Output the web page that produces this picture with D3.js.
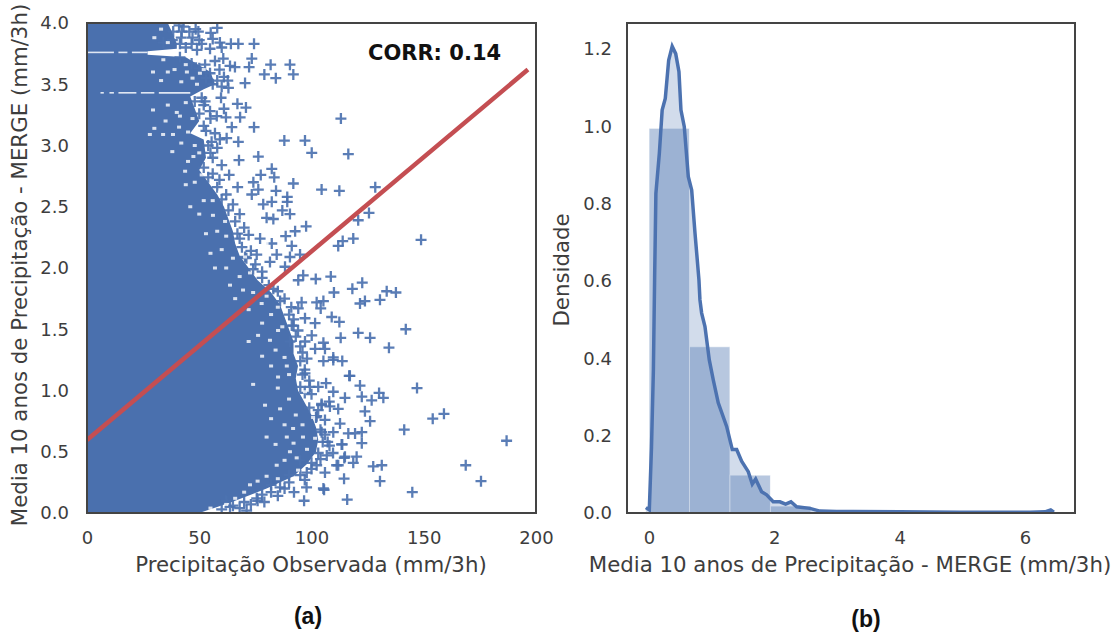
<!DOCTYPE html>
<html>
<head>
<meta charset="utf-8">
<script src="https://cdn.jsdelivr.net/npm/d3@7"></script>
<style>
    body { margin: 0; background: #fff; }
    text { font-family: "DejaVu Sans"; fill: #3d3d3d; }
</style>
</head>
<body>
<svg id="chart" width="1118" height="632"></svg>
<script>
// Panel (a): edge of the crowded cloud
var edgeY = [4, 3.92, 3.83, 3.79, 3.77, 3.74, 3.72, 3.6, 3.5, 3.46, 3.4, 3.3, 3.2, 3.1, 3.05, 2.9, 2.8, 2.7, 2.6, 2.5, 2.4, 2.3, 2.2, 2.1, 2, 1.9, 1.8, 1.7, 1.6, 1.5, 1.4, 1.3, 1.2, 1.1, 1, 0.9, 0.8, 0.7, 0.6, 0.5, 0.4, 0.3, 0.2, 0.1, 0.05, 0];
var edgeX = [36, 38, 40, 40, 27, 27, 44, 55, 57, 52, 46, 48, 50, 46, 52, 53, 50, 54, 58, 61, 63, 65, 66, 68, 72, 76, 82, 86, 88, 90, 92, 92, 94, 93, 94, 97, 100, 102, 103, 102, 98, 92, 80, 66, 58, 50];

// Panel (a): the separate + markers [observed, merge]
var scatterPoints = [
    [55.1,3.92],[74.4,3.83],[67.4,3.83],[64.1,3.83],[59.2,3.84],[60,3.8],[54.8,3.79],[48.4,3.95],[45.6,3.93],[49.6,3.93],
    [42.2,3.93],[38.4,3.93],[41.4,3.83],[46.6,3.83],[51.1,3.83],[34,3.84],[73.4,3.71],[60.7,3.71],[81.8,3.66],[90.4,3.66],
    [79,3.58],[91.9,3.58],[84.1,3.55],[72.2,3.64],[65.9,3.64],[63.7,3.65],[70.4,3.51],[62.7,3.53],[58,3.53],[54.8,3.59],
    [52.6,3.66],[46.6,3.67],[41.4,3.72],[51.1,3.39],[59.7,3.39],[67,3.34],[70.8,3.31],[61,3.3],[68.2,3.23],[74.4,3.15],
    [64.5,3.15],[61.9,3.23],[57.8,3.24],[52.6,3.36],[54.8,3.28],[87.9,3.04],[97.1,3.04],[67.4,3.03],[62.2,3.06],[59.2,3.05],
    [55.5,3.03],[113.1,3.22],[100.1,2.94],[116.4,2.93],[76.3,2.91],[67.7,2.88],[82.3,2.81],[77.4,2.76],[83.4,2.74],[63.3,2.76],
    [91.9,2.69],[74.1,2.7],[67.1,2.66],[76.3,2.64],[84.2,2.63],[104.5,2.64],[112.4,2.63],[128.4,2.66],[89.2,2.58],[89.2,2.54],
    [82.3,2.54],[78.5,2.52],[87,2.47],[90.4,2.44],[125.6,2.45],[120.8,2.39],[80,2.41],[83,2.4],[97.6,2.34],[92.7,2.3],
    [88.5,2.26],[118.6,2.24],[113.9,2.22],[111.9,2.18],[148.8,2.23],[91.2,2.18],[77.1,2.24],[82.3,2.2],[84.5,2.11],[90.4,2.09],
    [94.9,2.11],[81.5,2.05],[88.2,2.01],[70.4,2.09],[75.6,2.11],[73.4,2.6],[96.3,1.94],[94.1,1.9],[101.9,1.91],[108.6,1.93],
    [122.6,1.88],[118.2,1.83],[110,1.8],[133.5,1.81],[137.6,1.8],[130.5,1.74],[123.8,1.73],[121.6,1.71],[105.3,1.73],[102.3,1.72],
    [104.1,1.67],[95.6,1.72],[94.1,1.67],[109,1.6],[112.4,1.56],[97.1,1.59],[101.6,1.55],[91.2,1.53],[120.8,1.47],[126.1,1.43],
    [113,1.43],[142,1.5],[134.5,1.35],[100.1,1.45],[97.1,1.4],[105.3,1.39],[106,1.34],[101.6,1.34],[109.7,1.27],[113.7,1.24],
    [105.3,1.24],[116.8,1.12],[121.6,1.04],[147,1.02],[97.1,1.14],[103,1.03],[90.4,1.4],[159,0.81],[154,0.77],[141.3,0.68],
    [186.9,0.59],[168.7,0.39],[175.5,0.26],[144.9,0.17],[130.5,0.26],[131.3,0.39],[127.5,0.38],[115.9,0.11],[105.6,0.19],[96.7,0.1],
    [92.2,0.17],[97.8,0.21],[79,0.09],[122.4,0.66],[122.4,0.57],[116.4,0.65],[119.4,0.65],[113.4,0.56],[120.1,0.46],[118.6,0.41],
    [114.6,0.45],[114.5,0.28],[111.2,0.39],[106,0.33],[102.3,0.39],[126.1,0.75],[123.8,0.83],[132,0.94],[130.1,0.98],[126.8,0.92],
    [122.4,0.95],[117.1,1.12],[114.9,0.94],[109.7,1.25],[112.7,0.73],[109.7,0.66],[104.5,0.66],[108.2,0.87],[111.9,0.85],[104.5,0.89],
    [99.3,1.03],[106.5,1.06],[109.7,0.99],[102.3,0.79],[106.8,0.47],[109.6,0.49],[94.9,0.43],[97.9,0.33],[86,0.21],[75.6,0.12],
    [71.1,0.02],[63.7,0.05],[113.7,0.56],[107.2,0.58],[114.9,0.46],[111.9,0.39],[105.3,0.2],[107.9,0.91],[104.5,0.88]
];

// Panel (a): markers that make the rough rim of the cloud
var rimPoints = [
    [43,3.97],[47,3.88],[50,3.86],[44,3.8],[49,3.78],[56,3.87],[58,3.96],[57,3.69],[59,3.62],[61,3.56],
    [60,3.48],[63,3.47],[52,3.33],[55,3.22],[53,3.12],[57,3.1],[58,2.98],[56,2.9],[60,2.84],[54,2.74],
    [59,2.72],[62,2.6],[65,2.52],[68,2.44],[70,2.33],[72,2.27],[69,2.17],[73,2.14],[75,2.03],[78,1.97],
    [81,1.86],[85,1.81],[88,1.75],[91,1.68],[92,1.58],[94,1.49],[96,1.31],[98,1.26],[97,1.17],[99,1.08],
    [100,0.97],[103,0.84],[106,0.76],[106,0.64],[108,0.55],[104,0.44],[100,0.36],[97,0.27],[90,0.25],[85,0.14],
    [73,0.07],[68,0.04],[62,0.1],
    [41,3.98],[42,3.88],[38,3.86],[53,3.55],[56,3.5],[50,3.63],[48,3.36],[50,3.26],[52,3.16],[54,3],
    [55,2.94],[52,2.82],[56,2.77],[58,2.66],[60,2.56],[63,2.47],[66,2.38],[67,2.28],[68,2.24],[71,2.08],
    [74,1.99],[78,1.92],[83,1.83],[86,1.73],[90,1.62],[92,1.53],[93,1.44],[95,1.36],[95,1.24],[96,1.13],
    [95,1.03],[97,0.98],[99,0.86],[102,0.78],[104,0.68],[105,0.58],[103,0.49],[100,0.41],[95,0.31],[88,0.2],
    [82,0.17],[76,0.1],[70,0.09],[65,0.06],[60,0.03],[82,0.23],[90,0.31],[78,0.15]
];

// small holes left in the cloud [observed, merge]
var holes = [
    [51.1,2.76],[43.7,2.79],[47.4,2.91],[59.2,2.62],[68.2,2.58],[61.5,2.38],[56.1,2.43],[70.4,2.09],[80,2.2],[72.6,1.96],
    [81.5,1.96],[85.1,1.49],[89,1.2],[81.5,1.41],[76.2,1.45],[85.1,1.11],[77.8,1.71],[57,2],[63.7,1.86],[69.5,1.82],
    [89,0.62],[91.8,0.69],[79.3,0.88],[72.6,0.23],[96.2,0.62],[93.4,0.45],[84.5,0.39],[90.4,0.5],[97.1,0.99],[100.7,0.78],
    [101.6,0.61],[29.4,3.6],[29.4,3.29],[33.9,3.09],[28,3.09],[38.3,3.09],[44.5,3.6],[50.3,3.59],[41.4,3.24],
    [30,3.88],[33,3.95],[36,3.84],[34,3.7],[39,3.62],[44,3.66],[47,3.55],[42,3.52],[49,3.5],[52,3.62],
    [36,3.6],[33,3.53],[36,3.33],[40,3.27],[44,3.35],[47,3.22],[41,3.15],[45,3.11],[35,3.2],[30,3.14],
    [48,3],[42,3.02],[50,2.94],[45,2.87],[38,2.95],[48,2.7],[44,2.68],[52,2.55],[46,2.5],[56,2.55],
    [50,2.44],[58,2.3],[53,2.28],[62,2.26],[60,2.15],[55,2.12],[65,2.08],[62,2],[68,1.93],[66,1.75],
    [74,1.8],[72,1.66],[80,1.77],[82,1.62],[85,1.68],[78,1.55],[87,1.52],[72,1.4],[84,1.33],[88,1.27],
    [78,1.28],[82,1.2],[90,1.13],[85,1.02],[74,1.05],[90,0.93],[86,0.85],[93,0.8],[82,0.77],[96,0.72],
    [88,0.72],[92,0.57],[98,0.52],[84,0.56],[80,0.62],[88,0.43],[94,0.35],[80,0.3],[85,0.28],[76,0.26],
    [70,0.17],[62,0.07],[55,0.04],[66,0.12]
];

// white stripes where the data has a gap [y, x from, x to]
var stripes = [[3.76, 0, 12], [3.76, 14, 18], [3.76, 20, 27], [3.43, 6, 7.5], [3.43, 10, 12], [3.43, 14, 22], [3.43, 24, 30], [3.43, 32, 46]];

var fitX = [0, 196.4];
var fitY = [0.596, 3.62];
var corrLabel = 'CORR: 0.14';

// Panel (b)
var binHeights = [0.995, 0.43, 0.098, 0.018, 0.003, 0.0015, 0.001, 0.0005, 0.0005, 0.0005];
var binMin = 0;
var binMax = 6.46;
var kdeX = [-0.05,0.005,0.04,0.07,0.09,0.11,0.165,0.21,0.26,0.314,0.37,0.426,0.478,0.51,0.563,0.627,0.681,0.734,0.797,0.813,0.84,0.893,0.962,1.026,1.105,1.239,1.329,1.399,1.478,1.584,1.648,1.702,1.797,1.877,1.982,2.089,2.18,2.265,2.356,2.568,2.727,2.994,3.254,4,4.96,6.08,6.32,6.41,6.46];
var kdeY = [0.014,0.008,0.171,0.37,0.61,0.827,0.93,1.042,1.072,1.171,1.207,1.188,1.141,1.042,0.999,0.87,0.835,0.724,0.603,0.551,0.517,0.482,0.396,0.344,0.285,0.224,0.164,0.164,0.134,0.107,0.075,0.088,0.055,0.047,0.029,0.029,0.023,0.029,0.016,0.012,0.005,0.004,0.004,0.003,0.002,0.002,0.003,0.008,0.002];

var blue = '#4c72b0';
var labelSize = '21.3px';
var tickSize = '18px';
var svg = d3.select('#chart');

// ---- panel (a) ----
var xA = d3.scaleLinear().domain([0, 200]).range([87, 536]);
var yA = d3.scaleLinear().domain([0, 4]).range([513, 23]);

svg.append('clipPath').attr('id', 'clipA').append('rect')
    .attr('x', 87).attr('y', 23).attr('width', 449).attr('height', 490);

var gA = svg.append('g').attr('clip-path', 'url(#clipA)');

var cloud = d3.area()
    .y(function(d) { return yA(d); })
    .x0(xA(0))
    .x1(function(d, i) { return xA(edgeX[i]); });

gA.append('path').attr('d', cloud(edgeY)).attr('fill', '#4a70ae');

gA.selectAll('path.pt').data(rimPoints.concat(scatterPoints)).enter().append('path')
    .attr('class', 'pt')
    .attr('d', 'M-5.5,0H5.5M0,-5.5V5.5')
    .attr('transform', function(d) { return 'translate(' + xA(d[0]) + ',' + yA(d[1]) + ')'; })
    .attr('fill', 'none')
    .attr('stroke', blue).attr('stroke-width', 2.3).attr('stroke-opacity', 0.92);

gA.selectAll('rect.hole').data(holes).enter().append('rect')
    .attr('class', 'hole')
    .attr('x', function(d) { return xA(d[0]) - 2; })
    .attr('y', function(d) { return yA(d[1]) - 1.5; })
    .attr('width', 4).attr('height', 3)
    .attr('fill', '#fff').attr('fill-opacity', 0.8);

gA.selectAll('line.gap').data(stripes).enter().append('line')
    .attr('class', 'gap')
    .attr('x1', function(d) { return xA(d[1]); })
    .attr('x2', function(d) { return xA(d[2]); })
    .attr('y1', function(d) { return yA(d[0]); })
    .attr('y2', function(d) { return yA(d[0]); })
    .attr('stroke', '#dfe6f2').attr('stroke-width', 1.6);

gA.append('line')
    .attr('x1', xA(fitX[0])).attr('x2', xA(fitX[1]))
    .attr('y1', yA(fitY[0])).attr('y2', yA(fitY[1]))
    .attr('stroke', '#c44e52').attr('stroke-width', 4.5);

drawAxes(xA, yA, xA, yA, [0, 50, 100, 150, 200], d3.range(0, 4.01, 0.5), 18);

svg.append('text').attr('x', 368).attr('y', 60)
    .style('font-size', '21px').style('font-weight', 'bold').style('fill', '#111')
    .text(corrLabel);

svg.append('text').attr('x', 311).attr('y', 572).attr('text-anchor', 'middle')
    .style('font-size', labelSize).text('Precipitação Observada (mm/3h)');
svg.append('text').attr('transform', 'translate(27,265) rotate(-90)').attr('text-anchor', 'middle')
    .style('font-size', labelSize).text('Media 10 anos de Precipitação - MERGE (mm/3h)');
svg.append('text').attr('x', 308).attr('y', 624).attr('text-anchor', 'middle')
    .style('font-family', 'Liberation Sans').style('font-size', '23px').style('font-weight', 'bold').style('fill', '#111')
    .text('(a)');

// ---- panel (b) ----
var xB = d3.scaleLinear().domain([0, 6]).range([649, 1025]);
var yB = d3.scaleLinear().domain([0, 1.2]).range([513, 49]);
var binW = (binMax - binMin) / binHeights.length;

svg.selectAll('rect.bin').data(binHeights).enter().append('rect')
    .attr('class', 'bin')
    .attr('x', function(d, i) { return xB(binMin + i * binW); })
    .attr('width', xB(binW) - xB(0))
    .attr('y', function(d) { return yB(d); })
    .attr('height', function(d) { return yB(0) - yB(d); })
    .attr('fill', blue).attr('fill-opacity', 0.4)
    .attr('stroke', '#fff').attr('stroke-opacity', 0.7).attr('stroke-width', 1);

var kde = d3.range(kdeX.length);
svg.append('path')
    .attr('d', d3.area().x(function(i) { return xB(kdeX[i]); }).y0(yB(0)).y1(function(i) { return yB(kdeY[i]); })(kde))
    .attr('fill', blue).attr('fill-opacity', 0.25);
svg.append('path')
    .attr('d', d3.line().x(function(i) { return xB(kdeX[i]); }).y(function(i) { return yB(kdeY[i]); })(kde))
    .attr('fill', 'none').attr('stroke', blue).attr('stroke-width', 3.5);

drawAxes(d3.scaleLinear().range([627, 1075]), d3.scaleLinear().range([513, 23]), xB, yB, [0, 2, 4, 6], d3.range(0, 1.21, 0.2), 15);

svg.append('text').attr('x', 850).attr('y', 572).attr('text-anchor', 'middle')
    .style('font-size', labelSize).text('Media 10 anos de Precipitação - MERGE (mm/3h)');
svg.append('text').attr('transform', 'translate(569,270) rotate(-90)').attr('text-anchor', 'middle')
    .style('font-size', labelSize).text('Densidade');
svg.append('text').attr('x', 866).attr('y', 627).attr('text-anchor', 'middle')
    .style('font-family', 'Liberation Sans').style('font-size', '23px').style('font-weight', 'bold').style('fill', '#111')
    .text('(b)');

function drawAxes(boxX, boxY, x, y, xTicks, yTicks, yPad) {
    var xr = boxX.range(), yr = boxY.range();

    svg.append('rect')
        .attr('x', xr[0]).attr('y', yr[1])
        .attr('width', xr[1] - xr[0]).attr('height', yr[0] - yr[1])
        .attr('fill', 'none').attr('stroke', '#444').attr('stroke-width', 2);

    var axX = d3.axisBottom(x).tickValues(xTicks).tickFormat(d3.format('d')).tickSize(0).tickPadding(18);
    var axY = d3.axisLeft(y).tickValues(yTicks).tickFormat(d3.format('.1f')).tickSize(0).tickPadding(yPad);

    var gx = svg.append('g').attr('transform', 'translate(0,' + yr[0] + ')').call(axX);
    var gy = svg.append('g').attr('transform', 'translate(' + xr[0] + ',0)').call(axY);
    gx.select('.domain').remove();
    gy.select('.domain').remove();
    gx.selectAll('text').style('font-size', tickSize).style('font-family', 'DejaVu Sans').style('fill', '#3d3d3d');
    gy.selectAll('text').style('font-size', tickSize).style('font-family', 'DejaVu Sans').style('fill', '#3d3d3d');
}
</script>
</body>
</html>
